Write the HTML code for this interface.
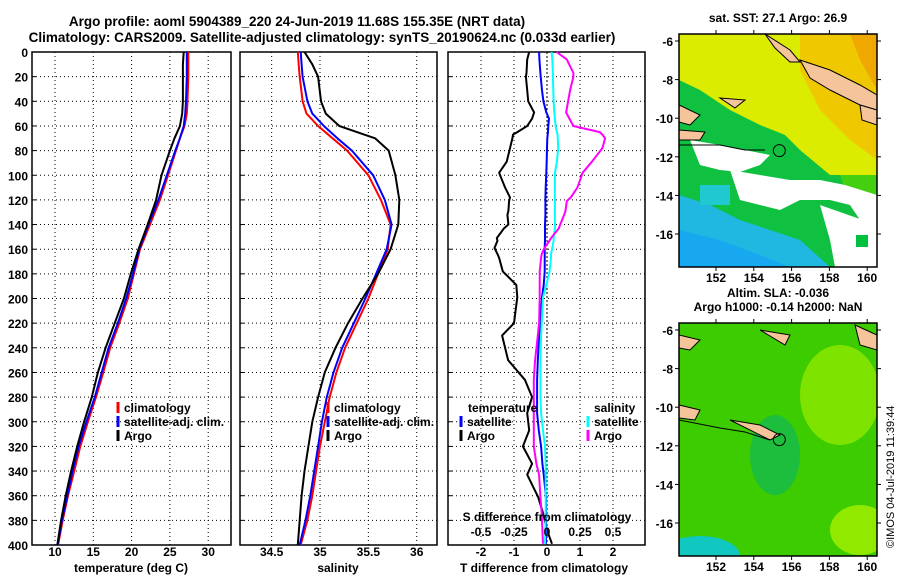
<!DOCTYPE html>
<html><head><meta charset="utf-8"><style>
body{margin:0;background:#fff}
svg{display:block;font-family:"Liberation Sans",sans-serif;font-weight:bold}
text{font-size:12px;fill:#000}
</style></head><body>
<svg id="c" width="900" height="580" viewBox="0 0 900 580">
<text x="297" y="26" text-anchor="middle" style="font-size:13.5px">Argo profile: aoml 5904389_220 24-Jun-2019 11.68S 155.35E (NRT data)</text>
<text x="322" y="42" text-anchor="middle" style="font-size:13.5px">Climatology: CARS2009. Satellite-adjusted climatology: synTS_20190624.nc (0.033d earlier)</text>
<g id="maps"></g>
<g id="plots"></g>
<text transform="translate(894,548) rotate(-90)" style="font-size:11px;font-weight:normal">©IMOS 04-Jul-2019 11:39:44</text>
</svg>
<script>
const depths=[0,10,20,40,50,60,70,80,100,120,140,160,180,200,220,240,260,280,300,320,340,360,380,400];
const tClim=[27.4,27.4,27.4,27.3,27.2,26.9,26.3,25.8,24.75,23.7,22.4,21.1,20.3,19.5,18.4,17.2,16.3,15.35,14.3,13.3,12.5,11.7,11.0,10.4];
const tSat=[27.2,27.2,27.2,27.1,27.0,26.8,26.3,25.7,24.6,23.5,22.2,21.0,20.2,19.3,18.2,17.0,16.1,15.2,14.1,13.1,12.3,11.6,10.9,10.35];
const tArgo=[26.8,26.7,26.7,26.7,26.6,26.3,25.6,25.0,23.9,23.2,22.1,20.9,19.9,19.0,17.8,16.6,15.6,14.8,13.8,12.9,12.1,11.4,10.8,10.3];
const sClim=[34.77,34.78,34.79,34.82,34.86,34.98,35.13,35.28,35.5,35.63,35.73,35.7,35.6,35.5,35.38,35.26,35.17,35.1,35.05,35.0,34.96,34.92,34.87,34.8];
const sSat=[34.8,34.81,34.82,34.87,34.92,35.04,35.18,35.33,35.55,35.67,35.74,35.69,35.58,35.47,35.35,35.23,35.14,35.07,35.02,34.98,34.94,34.9,34.85,34.79];
const sArgo=[34.84,34.92,34.98,35.01,35.06,35.2,35.57,35.71,35.78,35.82,35.81,35.73,35.6,35.44,35.29,35.16,35.05,34.98,34.92,34.88,34.84,34.81,34.79,34.77];
const dDepths=[0,6,17,20,31,40,49,54,60,65,67,70,78,89,98,110,118,121,129,132,140,143,151,153,159,164,167,178,189,199,220,230,250,266,280,293,307,320,334,343,361,374,388,399];
const dT=[-0.54,-0.6,-0.62,-0.64,-0.6,-0.57,-0.39,-0.45,-0.6,-0.9,-1.03,-1.05,-1.12,-1.22,-1.45,-1.27,-1.12,-1.15,-1.17,-1.2,-1.17,-1.3,-1.52,-1.5,-1.59,-1.5,-1.45,-1.34,-0.93,-0.9,-1.0,-1.36,-1.18,-0.67,-0.45,-0.6,-0.54,-0.73,-0.45,-0.6,-0.27,-0.12,0.0,0.15];
const dTsat=[-0.24,-0.23,-0.2,-0.19,-0.15,-0.11,-0.02,0.06,0.04,0.03,0.02,0.01,0.0,-0.01,-0.02,-0.04,-0.05,-0.05,-0.05,-0.05,-0.06,-0.06,-0.06,-0.06,-0.07,-0.07,-0.07,-0.07,-0.1,-0.15,-0.2,-0.24,-0.28,-0.3,-0.3,-0.3,-0.25,-0.18,-0.14,-0.1,-0.03,-0.03,-0.03,-0.03];
const dSsat=[0.035,0.04,0.045,0.045,0.048,0.05,0.055,0.06,0.065,0.075,0.08,0.082,0.085,0.075,0.06,0.06,0.06,0.06,0.06,0.06,0.06,0.06,0.05,0.05,0.04,0.03,0.03,0.02,-0.005,-0.03,-0.04,-0.045,-0.05,-0.05,-0.05,-0.045,-0.03,-0.015,-0.01,-0.01,-0.01,-0.01,-0.012,-0.015];
const dSargo=[0.073,0.15,0.2,0.2,0.175,0.16,0.145,0.17,0.2,0.4,0.42,0.44,0.42,0.34,0.27,0.23,0.18,0.15,0.14,0.13,0.1,0.09,0.03,0.02,-0.02,-0.04,-0.045,-0.055,-0.055,-0.055,-0.06,-0.07,-0.09,-0.1,-0.1,-0.1,-0.1,-0.1,-0.08,-0.06,-0.05,-0.04,-0.035,-0.03];
const yTicks=[0,20,40,60,80,100,120,140,160,180,200,220,240,260,280,300,320,340,360,380,400];
const tTicks=[10,15,20,25,30];
const sTicks=[34.5,35,35.5,36];
const dTTicks=[-2,-1,0,1,2];
const dSTicks=[-0.5,-0.25,0,0.25,0.5];
const dSTickLabels=["-0.5","-0.25","0","0.25","0.5"];
const latTicks=[-6,-8,-10,-12,-14,-16];
const lonTicks=[152,154,156,158,160];

const NS='http://www.w3.org/2000/svg';
const plots=document.getElementById('plots'), maps=document.getElementById('maps');
function mk(tag,attrs,parent,txt){const e=document.createElementNS(NS,tag);for(const k in attrs)e.setAttribute(k,attrs[k]);if(txt!==undefined)e.textContent=txt;(parent||plots).appendChild(e);return e;}
const Y0=52,Y1=545;
const yD=d=>Y0+(d/400)*(Y1-Y0);
function panel(name,x0,x1,xs,ticks,labels,showY){
  const g=mk('g',{});
  
  
  ticks.forEach(t=>{const l=mk('line',{x1:xs(t),x2:xs(t),y1:Y0,y2:Y1,stroke:'#000','stroke-dasharray':'1,3','stroke-width':1},g);
    });
  yTicks.forEach(d=>{if(d>0&&d<400){const l=mk('line',{x1:x0,x2:x1,y1:yD(d),y2:yD(d),stroke:'#000','stroke-dasharray':'1,3'},g);
    }
    mk('line',{x1:x0,x2:x0+4,y1:yD(d),y2:yD(d),stroke:'#000'},g);
    if(showY){const t=mk('text',{x:x0-4,y:yD(d)+5,'text-anchor':'end'},g,String(d));}});
  const r=mk('rect',{x:x0,y:Y0,width:x1-x0,height:Y1-Y0,fill:'none',stroke:'#000','stroke-width':1.5},g);
  
  if(labels) ticks.forEach((t,i)=>{const e=mk('text',{x:xs(t),y:556,'text-anchor':'middle'},g,labels[i]);});
  return g;
}
function line(name,xs,vals,dd,color,w){
  let p='';vals.forEach((v,i)=>{p+=(i?'L':'M')+xs(v).toFixed(1)+','+yD(dd[i]).toFixed(1);});
  const e=mk('path',{d:p,fill:'none',stroke:color,'stroke-width':w||2,'stroke-linejoin':'round'});
  
}
function legend(name,x,y,color,label){
  const g=mk('g',{});
  if(color) mk('line',{x1:x,x2:x,y1:y-10,y2:y+1,stroke:color,'stroke-width':3},g);
  mk('text',{x:x+6,y:y},g,label);
}
const xT=t=>55+(t-10)*7.66;
panel('temperature-panel',32,231,xT,tTicks,tTicks.map(String),true);
line('temperature-climatology',xT,tClim,depths,'#f00');
line('temperature-satellite-adj',xT,tSat,depths,'#00f');
line('temperature-argo',xT,tArgo,depths,'#000');
mk('text',{x:131,y:572,'text-anchor':'middle'},plots,'temperature (deg C)');
legend('legend-climatology',118,412,'#f00','climatology');
legend('legend-satellite-adj',118,426,'#00f','satellite-adj. clim.');
legend('legend-argo',118,440,'#000','Argo');
const xS=s=>320+(s-35)*96.7;
panel('salinity-panel',240,437,xS,sTicks,sTicks.map(String),false);
line('salinity-climatology',xS,sClim,depths,'#f00');
line('salinity-satellite-adj',xS,sSat,depths,'#00f');
line('salinity-argo',xS,sArgo,depths,'#000');
mk('text',{x:338,y:572,'text-anchor':'middle'},plots,'salinity');
legend('legend2-climatology',328,412,'#f00','climatology');
legend('legend2-satellite-adj',328,426,'#00f','satellite-adj. clim.');
legend('legend2-argo',328,440,'#000','Argo');
const xdT=t=>547+t*33, xdS=s=>547+s*132;
panel('difference-panel',448,645,xdT,dTTicks,dTTicks.map(String),false);
mk('line',{x1:xdT(0),x2:xdT(0),y1:Y0,y2:Y1,stroke:'#000','stroke-dasharray':'2,2'});
line('t-diff-argo',xdT,dT,dDepths,'#000');
line('t-diff-satellite',xdT,dTsat,dDepths,'#00f');
line('s-diff-satellite',xdS,dSsat,dDepths,'#0ff');
line('s-diff-argo',xdS,dSargo,dDepths,'#f0f');
dSTicks.forEach((s,i)=>{const e=mk('text',{x:xdS(s),y:536,'text-anchor':'middle'},plots,dSTickLabels[i]);});
mk('text',{x:547,y:521,'text-anchor':'middle'},plots,'S difference from climatology');
mk('text',{x:544,y:572,'text-anchor':'middle'},plots,'T difference from climatology');
mk('text',{x:468,y:412},plots,'temperature');
legend('legend3-t-satellite',461,426,'#00f','satellite');
legend('legend3-t-argo',461,440,'#000','Argo');
mk('text',{x:594,y:412},plots,'salinity');
legend('legend3-s-satellite',588,426,'#0ff','satellite');
legend('legend3-s-argo',588,440,'#f0f','Argo');

const MX0=679,MX1=877;
const lonX=l=>716+(l-152)*18.9;
function map(name,top,title1,title2,shapes){
  const g=mk('g',{},maps);
  const bot=top+233;const latY=l=>top+7+(-6-l)*19.3;
  const cid='clip'+top;
  const cp=mk('clipPath',{id:cid},g);mk('rect',{x:MX0,y:top,width:MX1-MX0,height:bot-top},cp);
  const inner=mk('g',{'clip-path':'url(#'+cid+')'},g);
  shapes.forEach(s=>mk(s[0],s[1],inner));
  mk('circle',{cx:lonX(155.35),cy:latY(-11.68),r:6,fill:'none',stroke:'#000','stroke-width':1},g);
  mk('rect',{x:MX0,y:top,width:MX1-MX0,height:bot-top,fill:'none',stroke:'#000','stroke-width':1.5},g);
  latTicks.forEach(l=>{mk('line',{x1:MX0-4,x2:MX0,y1:latY(l),y2:latY(l),stroke:'#000'},g);mk('line',{x1:MX1,x2:MX1+4,y1:latY(l),y2:latY(l),stroke:'#000'},g);
    const t=mk('text',{x:MX0-6,y:latY(l)+5,'text-anchor':'end'},g,String(l));});
  lonTicks.forEach(l=>{mk('line',{x1:lonX(l),x2:lonX(l),y1:bot,y2:bot+4,stroke:'#000'},g);mk('line',{x1:lonX(l),x2:lonX(l),y1:top-4,y2:top,stroke:'#000'},g);
    const t=mk('text',{x:lonX(l),y:bot+15,'text-anchor':'middle'},g,String(l));});
  mk('text',{x:778,y:top-12,'text-anchor':'middle'},g,title1);
  if(title2) mk('text',{x:778,y:top-26,'text-anchor':'middle'},g,title2);
}
const land='#f5c49a';
map('sst-map',34,'sat. SST: 27.1 Argo: 26.9',null,[
 ['rect',{x:MX0,y:34,width:200,height:233,fill:'#dcec00'}],
 ['polygon',{points:'800,34 877,34 877,160 850,140 820,110 800,70',fill:'#f0c800'}],
 ['polygon',{points:'850,34 877,34 877,90 860,60',fill:'#f0a800'}],
 ['polygon',{points:'679,80 700,90 730,110 760,125 785,135 800,150 830,175 877,175 877,267 679,267',fill:'#10c040'}],
 ['polygon',{points:'840,175 877,175 877,230 850,205',fill:'#44d010'}],
 ['polygon',{points:'679,195 710,205 740,220 770,230 800,240 830,267 679,267',fill:'#20b8e0'}],
 ['polygon',{points:'679,230 720,240 760,255 790,267 679,267',fill:'#18a8f0'}],
 ['rect',{x:700,y:185,width:30,height:20,fill:'#20c8d0'}],
 ['polygon',{points:'690,140 720,145 745,150 770,155 760,165 740,172 720,170 700,165',fill:'#fff'}],
 ['polygon',{points:'730,170 760,175 790,180 820,180 845,185 877,195 877,225 860,220 850,205 830,200 800,200 780,210 760,205 740,200',fill:'#fff'}],
 ['polygon',{points:'820,205 877,225 877,267 835,267 830,240',fill:'#fff'}],
 ['rect',{x:856,y:235,width:12,height:12,fill:'#00c040'}],
 ['polygon',{points:'765,34 790,50 800,62 790,62 775,48',fill:land,stroke:'#000'}],
 ['polygon',{points:'800,60 830,70 860,85 877,95 877,110 860,105 830,90 810,78',fill:land,stroke:'#000'}],
 ['polygon',{points:'860,105 877,110 877,125 862,120',fill:land,stroke:'#000'}],
 ['polygon',{points:'679,105 700,115 690,125 679,122',fill:land,stroke:'#000'}],
 ['polygon',{points:'679,130 705,132 700,140 679,140',fill:land,stroke:'#000'}],
 ['polygon',{points:'720,98 745,100 735,108',fill:land,stroke:'#000'}],
 ['polyline',{points:'679,145 720,145 745,150 765,150',fill:'none',stroke:'#000'}]
]);
map('sla-map',323,'Argo h1000: -0.14 h2000: NaN','Altim. SLA: -0.036',[
 ['rect',{x:MX0,y:323,width:200,height:234,fill:'#3ccc00'}],
 ['ellipse',{cx:840,cy:395,rx:40,ry:50,fill:'#90e800',opacity:0.8}],
 ['ellipse',{cx:860,cy:530,rx:30,ry:25,fill:'#a8f000',opacity:0.8}],
 ['ellipse',{cx:775,cy:455,rx:25,ry:40,fill:'#10b858',opacity:0.7}],
 ['ellipse',{cx:700,cy:556,rx:40,ry:20,fill:'#10c8c0'}],
 ['polygon',{points:'679,335 700,340 690,350 679,348',fill:land,stroke:'#000'}],
 ['polygon',{points:'760,330 790,335 785,345',fill:land,stroke:'#000'}],
 ['polygon',{points:'855,325 877,335 877,350 860,345',fill:land,stroke:'#000'}],
 ['polygon',{points:'730,420 760,425 780,435 770,440',fill:land,stroke:'#000'}],
 ['polygon',{points:'679,405 700,410 695,420 679,418',fill:land,stroke:'#000'}],
 ['polyline',{points:'679,420 720,428 745,432 770,440',fill:'none',stroke:'#000'}]
]);
</script>
</body></html>
